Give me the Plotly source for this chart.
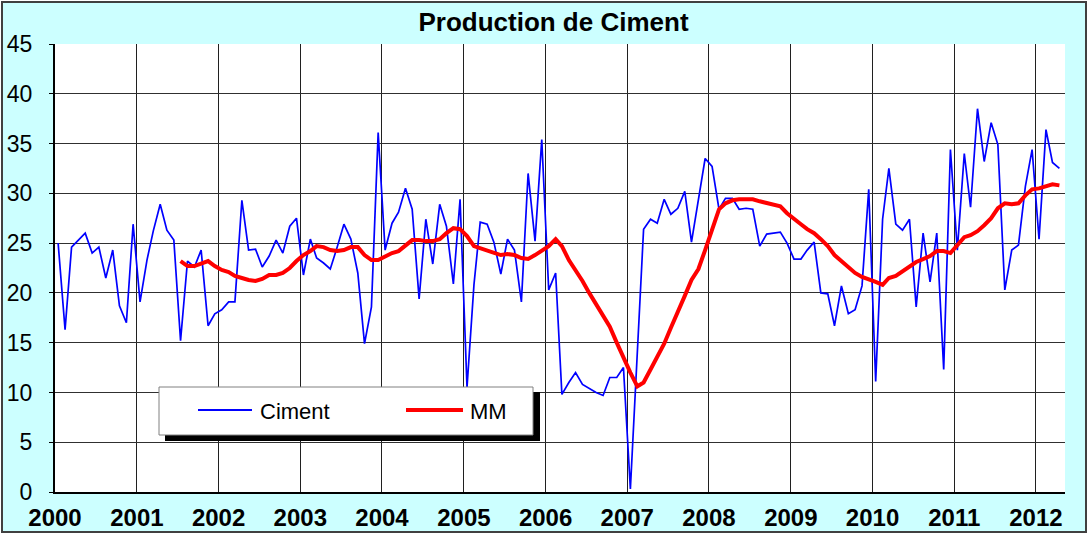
import pandas as pd
import plotly.graph_objects as go

# ---- data (monthly, Jan 2000 - Apr 2012) ----
ciment = [
    25.0, 16.3, 24.6, 25.3, 26.0, 24.0, 24.6, 21.5, 24.3, 18.7, 17.0, 26.9,
    19.1, 23.3, 26.2, 28.9, 26.3, 25.3, 15.2, 23.2, 22.6, 24.3, 16.7, 17.9,
    18.3, 19.1, 19.1, 29.3, 24.3, 24.4, 22.6, 23.7, 25.3, 24.0, 26.7, 27.5,
    21.8, 25.4, 23.5, 23.0, 22.4, 24.6, 26.9, 25.4, 22.0, 14.9, 18.6, 36.1,
    24.3, 27.0, 28.1, 30.5, 28.4, 19.4, 27.4, 22.9, 28.9, 26.7, 20.9, 29.4,
    10.5, 20.8, 27.1, 26.9, 25.1, 21.9, 25.4, 24.3, 19.1, 32.0, 25.2, 35.4,
    20.3, 22.0, 9.8, 11.0, 12.0, 10.8, 10.4, 10.0, 9.7, 11.5, 11.5, 12.5,
    0.3, 13.4, 26.4, 27.4, 27.0, 29.4, 27.9, 28.5, 30.2, 25.1, 29.4, 33.5,
    32.7, 28.4, 29.5, 29.5, 28.4, 28.5, 28.4, 24.7, 25.9, 26.0, 26.1, 25.0,
    23.4, 23.4, 24.3, 25.1, 20.0, 19.9, 16.7, 20.7, 17.9, 18.3, 20.7, 30.4,
    11.1, 27.4, 32.5, 26.9, 26.3, 27.4, 18.6, 26.0, 21.1, 26.0, 12.3, 34.4,
    24.3, 34.0, 28.6, 38.5, 33.2, 37.1, 34.9, 20.3, 24.3, 24.8, 30.7, 34.4,
    25.4, 36.4, 33.1, 32.5,
]

mm = [None] * 18 + [
    23.2, 22.7, 22.7, 22.9, 23.2, 22.7,
    22.3, 22.1, 21.7, 21.5, 21.3, 21.2, 21.4, 21.8, 21.8, 22.0, 22.5, 23.2,
    23.8, 24.2, 24.7, 24.6, 24.3, 24.2, 24.3, 24.6, 24.6, 23.8, 23.3, 23.3,
    23.7, 24.0, 24.2, 24.7, 25.3, 25.3, 25.2, 25.2, 25.4, 26.0, 26.5, 26.4,
    25.7, 24.7, 24.5, 24.3, 24.1, 23.8, 23.9, 23.8, 23.5, 23.4, 23.8, 24.3,
    24.7, 25.4, 24.7, 23.3, 22.3, 21.2, 20.0, 18.8, 17.7, 16.6, 15.0, 13.4,
    12.0, 10.6, 11.0, 12.3, 13.6, 14.9, 16.5, 18.0, 19.7, 21.3, 22.4, 24.3,
    26.4, 28.4, 29.0, 29.3, 29.4, 29.4, 29.4, 29.2, 29.0, 28.8, 28.7, 28.0,
    27.4, 26.9, 26.4, 26.0, 25.4, 24.7, 23.8, 23.2, 22.7, 22.0, 21.6, 21.4,
    21.1, 20.8, 21.5, 21.7, 22.2, 22.7, 23.1, 23.4, 23.7, 24.2, 24.2, 24.0,
    24.8, 25.6, 25.8, 26.2, 26.8, 27.5, 28.5, 29.0, 28.9, 29.0, 29.8, 30.4,
    30.5, 30.7, 30.9, 30.8,
]

years = [str(y) for y in range(2000, 2013)]
y_ticks = list(range(0, 50, 5))

dates = pd.date_range("2000-01-01", periods=len(ciment), freq="MS") + pd.Timedelta(days=14)
year_ticks = [f"{y}-01-01" for y in years]

# ---- layout geometry (pixels) ----
W, H = 1092, 534
L, R, T, B = 55, 1065, 44, 492
FONT = "Liberation Sans, Arial, sans-serif"


def px(x):
    return (x - L) / (R - L)


def py(y):
    return (B - y) / (B - T)


fig = go.Figure()
fig.add_trace(go.Scatter(x=dates, y=ciment, mode="lines", name="Ciment",
                         line=dict(color="#0000FF", width=1.7), showlegend=False))
fig.add_trace(go.Scatter(x=dates, y=mm, mode="lines", name="MM",
                         line=dict(color="#FF0000", width=4), showlegend=False))

shapes = [
    # figure background with border
    dict(type="rect", xref="paper", yref="paper", layer="below",
         x0=px(2), x1=px(1086), y0=py(532), y1=py(2),
         fillcolor="#CCFFFF", line=dict(color="#404040", width=2)),
    # plot area
    dict(type="rect", xref="paper", yref="paper", layer="below",
         x0=0, x1=1, y0=0, y1=1, fillcolor="white", line=dict(width=0)),
    # legend shadow
    dict(type="rect", xref="paper", yref="paper", layer="above",
         x0=px(165), x1=px(540), y0=py(441), y1=py(392),
         fillcolor="black", line=dict(width=0)),
    # legend box
    dict(type="rect", xref="paper", yref="paper", layer="above",
         x0=px(159), x1=px(533), y0=py(435), y1=py(387),
         fillcolor="white", line=dict(color="#808080", width=1)),
    # legend samples
    dict(type="line", xref="paper", yref="paper", layer="above",
         x0=px(198), x1=px(252), y0=py(410), y1=py(410),
         line=dict(color="#0000FF", width=2)),
    dict(type="line", xref="paper", yref="paper", layer="above",
         x0=px(406), x1=px(463), y0=py(410), y1=py(410),
         line=dict(color="#FF0000", width=4)),
]

annotations = [
    dict(text="Ciment", xref="paper", yref="paper", x=px(258), y=py(411),
         xanchor="left", yanchor="middle", showarrow=False,
         font=dict(family=FONT, size=22, color="black")),
    dict(text="MM", xref="paper", yref="paper", x=px(468), y=py(411),
         xanchor="left", yanchor="middle", showarrow=False,
         font=dict(family=FONT, size=22, color="black")),
]

fig.update_layout(
    width=W, height=H,
    margin=dict(l=L, r=W - R, t=T, b=H - B, pad=0, autoexpand=False),
    paper_bgcolor="white", plot_bgcolor="white",
    title=dict(text="<b>Production de Ciment</b>", xref="container", yref="container",
               x=553.5 / W, y=1 - 22 / H, xanchor="center", yanchor="middle",
               font=dict(family=FONT, size=26, color="black")),
    shapes=shapes, annotations=annotations,
    showlegend=False,
    font=dict(family=FONT, color="black"),
)

fig.update_xaxes(
    type="date", range=["2000-01-01", "2012-05-10"], automargin=False,
    tickmode="array", tickvals=year_ticks, ticktext=[f"<b>{y}</b>" for y in years],
    tickfont=dict(family=FONT, size=24, color="black"),
    showgrid=True, gridcolor="#202020", gridwidth=1,
    showline=True, linecolor="black", linewidth=2,
    ticks="", ticklabelstandoff=3, zeroline=False,
)
fig.update_yaxes(
    range=[0, 45], tickmode="array", tickvals=y_ticks, automargin=False,
    tickfont=dict(family=FONT, size=23, color="black"),
    showgrid=True, gridcolor="#303030", gridwidth=1,
    showline=True, linecolor="black", linewidth=2,
    ticks="outside", ticklen=4, tickcolor="black", ticklabelstandoff=12,
    zeroline=False,
)

fig.write_html(
    "out.html",
    config={"displayModeBar": False},
    post_script="document.body.style.margin='0';document.body.style.overflow='hidden';",
)
